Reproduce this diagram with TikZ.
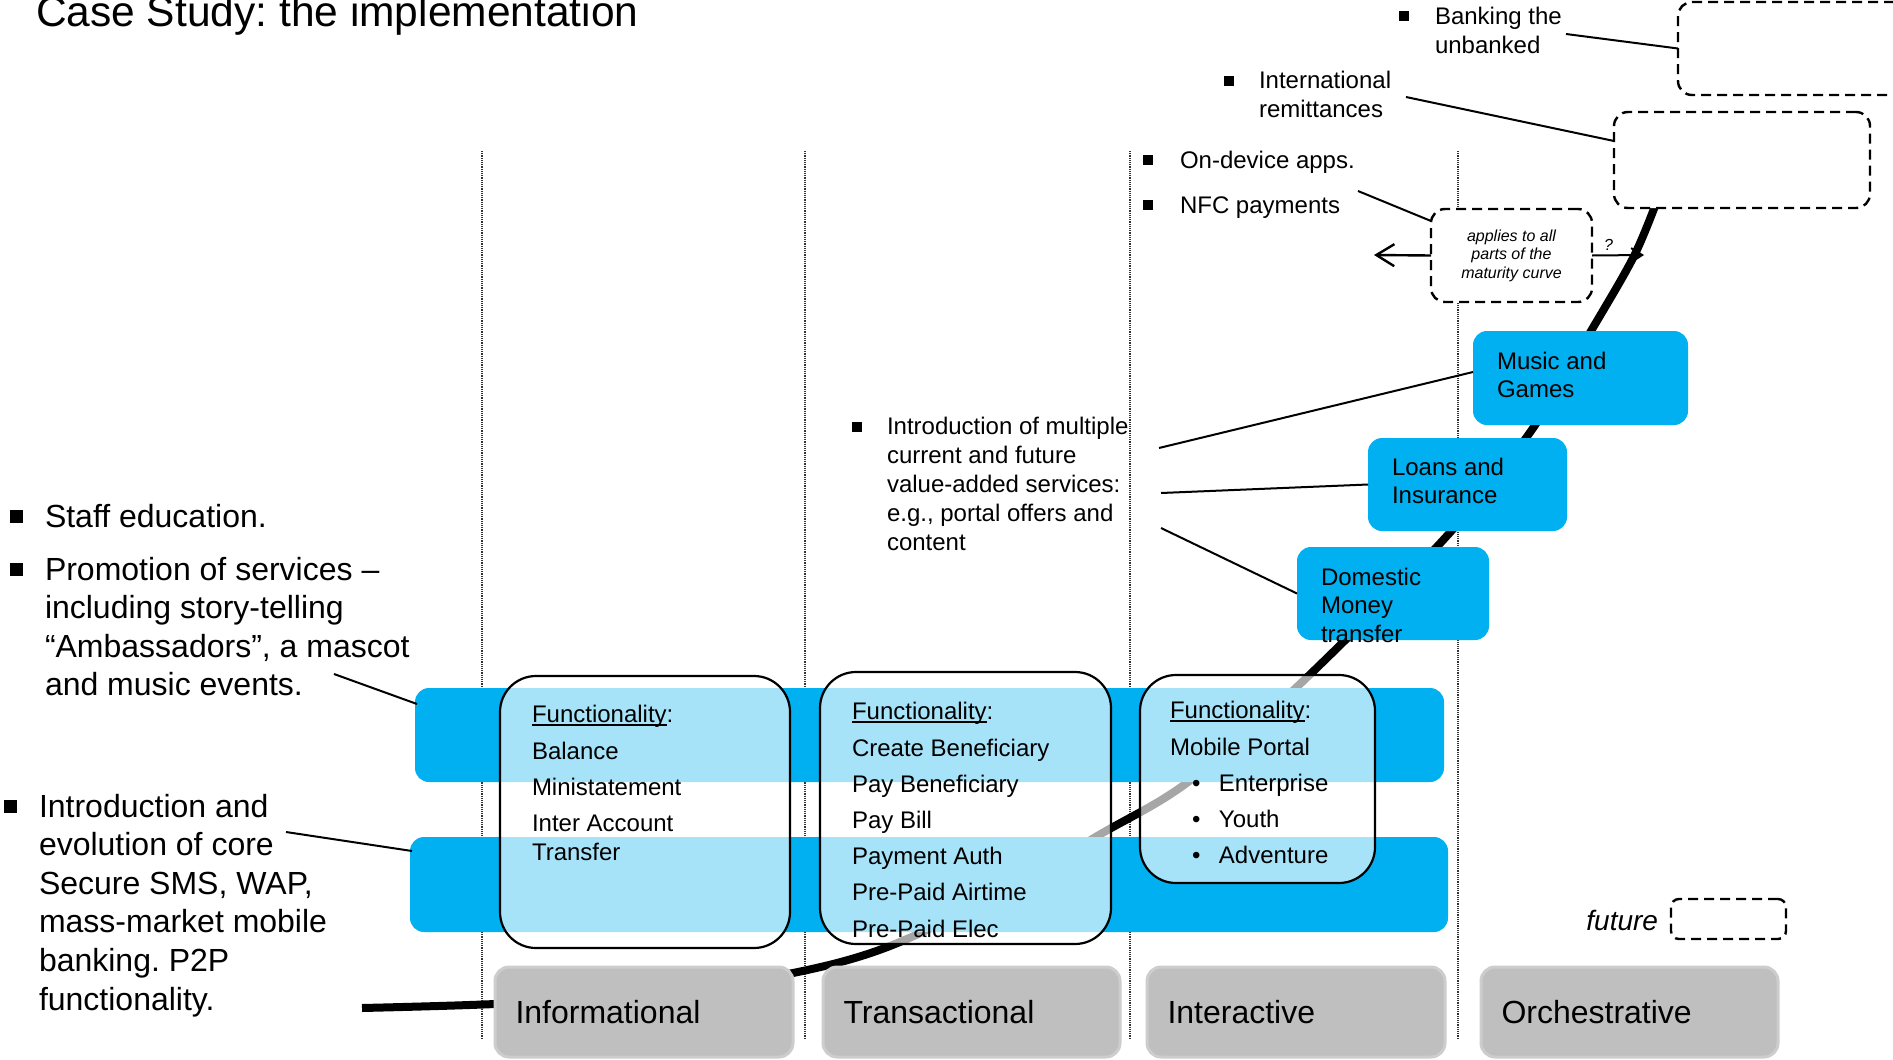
\documentclass[tikz,border=0pt]{standalone}
\usepackage{fontspec}
\setmainfont{Liberation Sans}
\usetikzlibrary{arrows.meta,calc}
\definecolor{bandblue}{RGB}{0,176,240}
\definecolor{phasegray}{RGB}{191,191,191}
\definecolor{phaserim}{RGB}{205,205,205}
\newcommand\myul[1]{\setbox0\hbox{#1}\rlap{\rule[-2.6pt]{\wd0}{1.2pt}}\box0}
\newcommand\sqb[3]{\fill (#1-#3/2,#2-#3/2) rectangle ++(#3,#3);}
\tikzset{
  divider/.style={black!80, line width=1.1pt, dash pattern=on 1.1pt off 1.1pt},
  curve/.style={black, line width=8pt},
  band/.style={fill=bandblue, rounded corners=14pt, anchor=north west},
  func/.style={draw=black, line width=2.2pt, fill=white, fill opacity=0.65, rounded corners=36pt, anchor=north west},
  svc/.style={fill=bandblue, rounded corners=14pt, anchor=north west},
  phase/.style={fill=phasegray, draw=phaserim, line width=3pt, rounded corners=14pt, anchor=north west, minimum height=90pt, inner xsep=20.5pt, align=left, font=\fontsize{32}{38}\selectfont},
  dbox/.style={draw=black, fill=white, line width=2.4pt, dash pattern=on 10pt off 6pt, rounded corners=14pt, anchor=north west},
  conn/.style={black, line width=2pt},
  bigtxt/.style={align=left, font=\fontsize{32}{38.6}\selectfont},
  midtxt/.style={align=left, font=\fontsize{24}{29}\selectfont},
  svctxt/.style={align=left, font=\fontsize{24}{28.5}\selectfont},
  fntxt/.style={align=left, font=\fontsize{24}{36.2}\selectfont},
}
\frenchspacing
\begin{document}
\begin{tikzpicture}[x=1pt,y=-1pt, every node/.style={inner sep=0pt, outer sep=0pt}]
\useasboundingbox (0,0) rectangle (1893,1060);
% column dividers
\foreach \xx in {482,805,1130,1458} \draw[divider] (\xx,151) -- (\xx,1038);
% maturity curve
\draw[curve] plot[smooth, tension=0.55] coordinates {(362,1008) (495,1004) (650,995) (793,973) (890,946) (1000,893) (1099,835) (1188,782) (1300,684) (1445,538) (1531,431) (1591,331) (1634,256) (1658,198)};
% bands
\node[band, minimum width=1029pt, minimum height=94pt] (band1) at (415,688) {};
\node[band, minimum width=1038pt, minimum height=95pt] (band2) at (410,837) {};
% functionality boxes
\node[func, minimum width=290pt, minimum height=272pt] (funcA) at (500,676) {};
\node[func, minimum width=291pt, minimum height=272pt] (funcB) at (820,672) {};
\node[func, minimum width=235pt, minimum height=208pt] (funcC) at (1140,675) {};
\node[fntxt, anchor=north west] (fa) at (532,705.5) {\myul{Functionality}:\\Balance\\Ministatement\\Inter Account\\[-7.2pt]Transfer};
\node[fntxt, anchor=north west] (fb) at (852,702.5) {\myul{Functionality}:\\Create Beneficiary\\Pay Beneficiary\\Pay Bill\\Payment Auth\\Pre-Paid Airtime\\Pre-Paid Elec};
\node[fntxt, anchor=north west] (fc) at (1170,701.5) {\myul{Functionality}:\\Mobile Portal\\\hspace*{22pt}\makebox[27pt][l]{\textbullet}Enterprise\\\hspace*{22pt}\makebox[27pt][l]{\textbullet}Youth\\\hspace*{22pt}\makebox[27pt][l]{\textbullet}Adventure};
% phase boxes
\node[phase, minimum width=298pt, text width=257pt] (info) at (495,967) {Informational};
\node[phase, minimum width=297pt, text width=256pt] (trans) at (823,967) {Transactional};
\node[phase, minimum width=298pt, text width=257pt] (inter) at (1147,967) {Interactive};
\node[phase, minimum width=297pt, text width=256pt] (orch) at (1481,967) {Orchestrative};
% service boxes
\node[svc, minimum width=215pt, minimum height=94pt] (music) at (1473,331) {};
\node[svctxt, anchor=north west] (musict) at (1497,352) {Music and\\Games};
\node[svc, minimum width=199pt, minimum height=93pt] (loans) at (1368,438) {};
\node[svctxt, anchor=north west] (loanst) at (1392,458) {Loans and\\Insurance};
\node[svc, minimum width=192pt, minimum height=93pt] (domestic) at (1297,547) {};
\node[svctxt, anchor=north west] (domt) at (1321,568) {Domestic\\Money\\transfer};
% dashed boxes
\node[dbox, minimum width=230pt, minimum height=93pt] (bankbox) at (1678,2) {};
\node[dbox, minimum width=256pt, minimum height=96pt] (intlbox) at (1614,112) {};
\node[dbox, minimum width=161pt, minimum height=93pt, align=center, font=\fontsize{16}{18.5}\selectfont\itshape] (applies) at (1431,209) {applies to all\\parts of the\\maturity curve};
\node[dbox, rounded corners=8pt, minimum width=115pt, minimum height=40pt] (futbox) at (1671,899) {};
\node[anchor=base east, font=\fontsize{28}{33}\selectfont\itshape] (future) at (1658,930) {future};
% title
\node[anchor=base west, font=\fontsize{42.5}{50}\selectfont] (title) at (36,27) {Case Study: the implementation};
% left texts
\node[bigtxt, anchor=base west] (staff) at (45,527) {Staff education.};
\node[bigtxt, anchor=north west] (promo) at (45,557) {Promotion of services --\\including story-telling\\``Ambassadors'', a mascot\\and music events.};
\node[bigtxt, anchor=north west] (intro) at (39,794) {Introduction and\\evolution of core\\Secure SMS, WAP,\\mass-market mobile\\banking. P2P\\functionality.};
\sqb{16}{516}{13}
\sqb{16}{569}{13}
\sqb{10}{806}{13}
% middle and top texts
\node[midtxt, anchor=north west] (multi) at (887,417.5) {Introduction of multiple\\current and future\\value-added services:\\e.g., portal offers and\\content};
\node[midtxt, anchor=north west] (banking) at (1435,7.5) {Banking the\\unbanked};
\node[midtxt, anchor=north west] (intl) at (1259,71.5) {International\\remittances};
\node[midtxt, anchor=base west] (ondev) at (1180,168) {On-device apps.};
\node[midtxt, anchor=base west] (nfc) at (1180,213) {NFC payments};
\sqb{857}{427}{10}
\sqb{1404}{16}{10}
\sqb{1229}{81}{10}
\sqb{1148}{160}{10}
\sqb{1148}{205}{10}
% connectors
\coordinate (cBank) at (1566,34);
\draw[conn] (cBank) -- (bankbox.west);
\coordinate (cIntl) at (1406,97);
\draw[conn] (cIntl) -- ($(intlbox.north west)+(0,29)$);
\coordinate (cNfc) at (1358,191);
\draw[conn] (cNfc) -- ($(applies.north west)+(0,12)$);
\coordinate (cM1) at (1159,448);
\draw[conn] (cM1) -- ($(music.north west)+(0,41)$);
\coordinate (cM2) at (1161,493);
\draw[conn] (cM2) -- (loans.west);
\coordinate (cM3) at (1161,528);
\draw[conn] (cM3) -- (domestic.west);
\coordinate (cPromo) at (334,674);
\draw[conn] (cPromo) -- ($(band1.north west)+(2,16)$);
\coordinate (cIntro) at (286,832);
\draw[conn] (cIntro) -- ($(band2.north west)+(2,14)$);
\coordinate (arrL) at (1374,255);
\draw[conn, line width=2.4pt, -{Straight Barb[length=18pt,width=22pt]}] (applies.west) -- (arrL);
\coordinate (arrR) at (1644,255);
\draw[conn, -{Straight Barb[length=11pt,width=14pt]}] (applies.east) -- (arrR);
\node[anchor=base west, font=\fontsize{16}{18}\selectfont\itshape] (qmark) at (1604,250) {?};
\end{tikzpicture}
\end{document}
